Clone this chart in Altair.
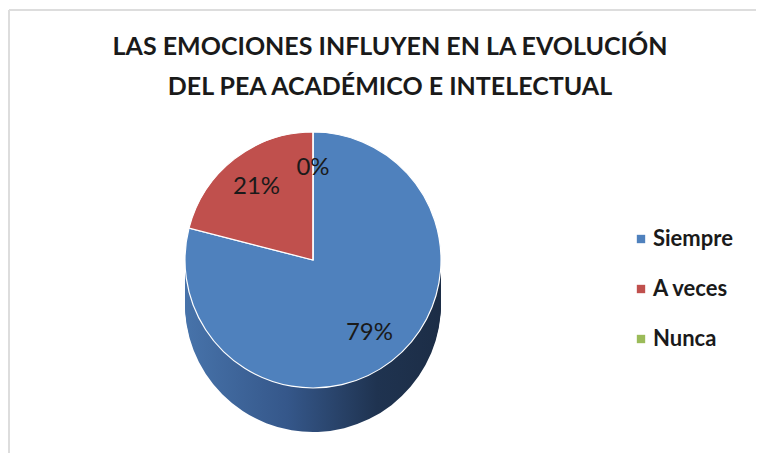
import altair as alt
import pandas as pd

# ---- data ----
categories = ["Siempre", "A veces", "Nunca"]
values = [79, 21, 0]
labels = ["79%", "21%", "0%"]
order = [1, 2, 3]
colors = ["#4F81BD", "#C0504D", "#9BBB59"]
title_lines = ["LAS EMOCIONES INFLUYEN EN LA EVOLUCIÓN", "DEL PEA ACADÉMICO E INTELECTUAL"]

df = pd.DataFrame({"cat": categories, "val": values, "lab": labels, "ord": order})
tdf = pd.DataFrame({"line": title_lines, "i": [0, 1]})

W, H = 748, 445
CX, CY = 305, 252
R = 128
DEPTH = 44
FONT = "Lato"

theta = alt.Theta("val:Q", stack=True)
ordr = alt.Order("ord:Q")
color = alt.Color(
    "cat:N",
    scale=alt.Scale(domain=categories, range=colors),
    sort=categories,
    legend=alt.Legend(
        title=None, orient="none", legendX=622, legendY=220,
        symbolType="square", symbolSize=70, symbolStrokeWidth=0,
        labelFont=FONT, labelFontSize=22, labelFontWeight="bold",
        labelColor="#1a1a1a", rowPadding=28, labelOffset=1,
    ),
)

grad = alt.LinearGradient(
    gradient="linear",
    stops=[
        alt.GradientStop(color="#4773AA", offset=0),
        alt.GradientStop(color="#35578A", offset=0.4),
        alt.GradientStop(color="#1F3350", offset=0.75),
        alt.GradientStop(color="#1C2D46", offset=1),
    ],
    x1=0, x2=1, y1=0, y2=0,
)

base = alt.Chart(df)

layers = []
# border lines (top and left)
layers.append(base.mark_rule(color="#DDDDDD", strokeWidth=2).encode(
    x=alt.value(1), x2=alt.value(W), y=alt.value(2)))
layers.append(base.mark_rule(color="#DDDDDD", strokeWidth=2).encode(
    x=alt.value(1), y=alt.value(2), y2=alt.value(H)))

# depth (side) layers
for k in range(DEPTH, 0, -2):
    layers.append(
        base.mark_arc(outerRadius=R, strokeWidth=0).encode(
            theta=theta, order=ordr,
            fill=alt.condition(alt.datum.cat == "Siempre", alt.value(grad), alt.value("#7E3331")),
            x=alt.value(CX), y=alt.value(CY + k),
        )
    )

# top face
layers.append(
    base.mark_arc(outerRadius=R, stroke="white", strokeWidth=1.2).encode(
        theta=theta, order=ordr, color=color,
        x=alt.value(CX), y=alt.value(CY),
    )
)

# percentage labels
layers.append(
    base.mark_text(radius=R * 0.72, font=FONT, fontSize=24, color="#1a1a1a").encode(
        theta=theta, order=ordr, text="lab:N",
        x=alt.value(CX), y=alt.value(CY),
    )
)

# title
layers.append(
    alt.Chart(tdf).mark_text(font=FONT, fontSize=25, fontWeight="bold", color="#1a1a1a",
                             baseline="middle", align="center").encode(
        text="line:N",
        x=alt.value(382),
        y=alt.Y("i:Q", scale=alt.Scale(domain=[0, 1], range=[39, 79]), axis=None),
    )
)

chart = alt.layer(*layers).properties(
    width=W, height=H, autosize=alt.AutoSizeParams(type="none"), padding=0
).configure_view(stroke=None)

chart.save("out.html", embed_options={"renderer": "svg", "actions": False})
